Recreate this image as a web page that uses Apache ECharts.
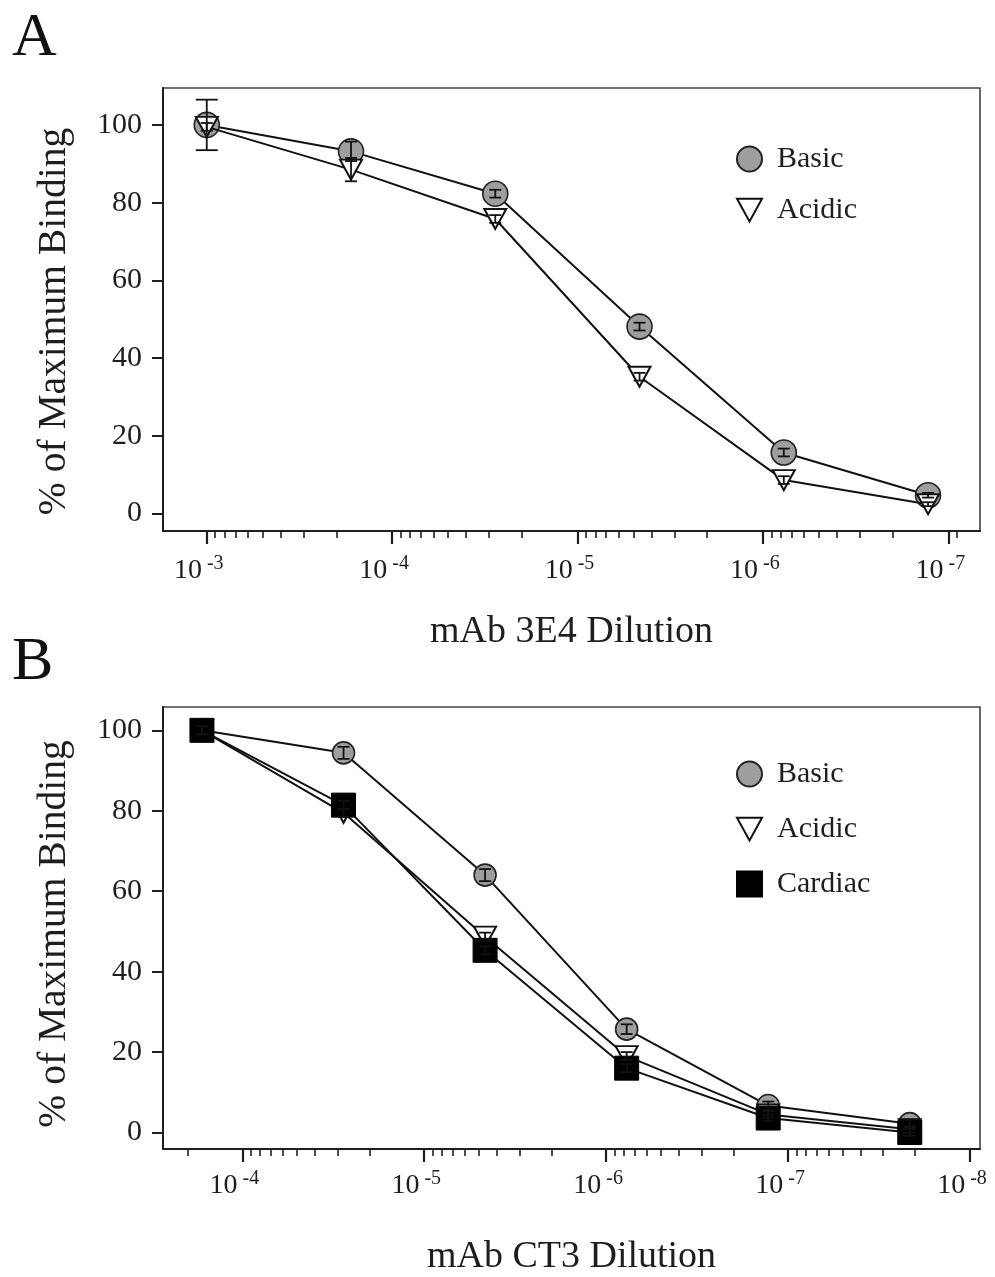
<!DOCTYPE html>
<html><head><meta charset="utf-8">
<script src="https://cdn.jsdelivr.net/npm/echarts@6/dist/echarts.min.js"></script>
<style>html,body{margin:0;padding:0;background:#fff}#c{width:995px;height:1277px}</style>
</head><body><div id="c"></div>
<script>
// ---- Data (reciprocal dilution factors and % of maximum binding) ----
const dilutionsA = [1000, 6000, 36000, 216000, 1296000, 7776000];
const basicA     = [100, 93.2, 82.3, 48.1, 15.7, 4.7];
const basicAErr  = [6.5, 2.5, 1.0, 1.0, 1.0, 0.6];
const acidicA    = [99.5, 88.5, 75.8, 35.2, 8.6, 2.4];
const acidicAErr = [1.0, 3.0, 1.0, 1.0, 1.0, 0.5];

const dilutionsB  = [6000, 36000, 216000, 1296000, 7776000, 46656000];
const basicB      = [100, 94.4, 64.0, 25.7, 6.7, 2.2];
const basicBErr   = [1.0, 1.5, 1.5, 1.2, 1.0, 1.0];
const acidicB     = [100, 79.5, 48.7, 19.0, 4.5, 0.8];
const acidicBErr  = [1.0, 1.0, 1.0, 1.0, 0.8, 0.8];
const cardiacB    = [100, 81.4, 45.3, 16.0, 3.6, 0.0];
const cardiacBErr = [1.0, 1.0, 1.0, 1.0, 0.8, 0.8];

const yTickValues = [0, 20, 40, 60, 80, 100];
const decadeExpA = [-3, -4, -5, -6, -7];
const decadeExpB = [-4, -5, -6, -7, -8];
const minorMultipliers = [2, 3, 4, 5, 6, 7, 8, 9];

const seriesNamesA = ['Basic', 'Acidic'];
const seriesNamesB = ['Basic', 'Acidic', 'Cardiac'];
const titleA = 'mAb 3E4 Dilution';
const titleB = 'mAb CT3 Dilution';
const yTitle = '% of Maximum Binding';

// ---- helpers ----
const FONT = '"Liberation Serif", "Times New Roman", serif';
const INK = '#1e1e1e';
const pts = (dil, vals) => dil.map((d, i) => [1 / d, vals[i]]);
const errPts = (dil, vals, errs) => dil.map((d, i) => [1 / d, vals[i], errs[i]]);
const majors = exps => exps.map(e => Math.pow(10, e));
const minors = (exps, floor) => {
  const out = [];
  const lo = Math.min(...exps) - 1, hi = Math.max(...exps) + 1;
  for (let e = lo; e <= hi; e++) minorMultipliers.forEach(m => out.push(m * Math.pow(10, e)));
  return out.filter(v => v >= floor * 0.999);
};

const circleStyle = (size) => ({ symbol: 'circle', symbolSize: size,
  itemStyle: { color: '#9e9e9e', borderColor: '#222', borderWidth: 1.6 } });
const triStyle = { symbol: 'triangle', symbolRotate: 180, symbolSize: [22, 20],
  itemStyle: { color: '#ffffff', borderColor: '#111', borderWidth: 2 } };
const sqStyle = { symbol: 'rect', symbolSize: 24,
  itemStyle: { color: '#000', borderColor: '#000', borderWidth: 1 } };

function lineSeries(name, idx, data, sty, z) {
  return Object.assign({
    name, type: 'line', xAxisIndex: idx * 2, yAxisIndex: idx, data,
    lineStyle: { color: '#111', width: 2 }, showSymbol: true, z,
    emphasis: { disabled: true }, animation: false
  }, sty);
}
function errSeries(idx, data, z) {
  return {
    type: 'custom', xAxisIndex: idx * 2, yAxisIndex: idx, data, z, animation: false,
    encode: { x: 0, y: 1 },
    renderItem(params, api) {
      const x = api.value(0), y = api.value(1), e = api.value(2);
      const t = api.coord([x, y + e]), b = api.coord([x, y - e]);
      const cw = e > 4 ? 11 : 6;
      const st = { stroke: '#111', lineWidth: 1.8 };
      return { type: 'group', children: [
        { type: 'line', shape: { x1: t[0], y1: t[1], x2: b[0], y2: b[1] }, style: st },
        { type: 'line', shape: { x1: t[0] - cw, y1: t[1], x2: t[0] + cw, y2: t[1] }, style: st },
        { type: 'line', shape: { x1: b[0] - cw, y1: b[1], x2: b[0] + cw, y2: b[1] }, style: st }
      ]};
    }
  };
}

const labelRich = {
  a: { fontFamily: FONT, fontSize: 28, color: INK, lineHeight: 34 },
  b: { fontFamily: FONT, fontSize: 20, color: INK, verticalAlign: 'top', padding: [0, 16, 0, 5] }
};
const fmtExp = v => '{a|10}{b|' + Math.round(Math.log10(v)) + '}';

function xAxes(grid, exps, lo, hi, margin, title, nameGap, floor) {
  return [
    { type: 'log', gridIndex: grid, position: 'bottom', inverse: true, min: Math.pow(10, lo), max: Math.pow(10, hi),
      axisLine: { show: true, onZero: false, lineStyle: { color: INK, width: 2 } },
      axisTick: { show: true, customValues: majors(exps), length: 13, lineStyle: { color: INK, width: 2.2 } },
      axisLabel: { show: true, customValues: majors(exps), formatter: fmtExp, rich: labelRich, margin },
      splitLine: { show: false }, minorTick: { show: false },
      name: title, nameLocation: 'middle', nameGap,
      nameTextStyle: { fontFamily: FONT, fontSize: 38, color: INK } },
    { type: 'log', gridIndex: grid, position: 'bottom', offset: 0, inverse: true, min: Math.pow(10, lo), max: Math.pow(10, hi),
      axisLine: { show: false, onZero: false },
      axisTick: { show: true, customValues: minors(exps, floor), length: 7, lineStyle: { color: INK, width: 1.6 } },
      axisLabel: { show: false }, splitLine: { show: false } }
  ];
}
function yAxis(grid, min, max, pad) {
  return { type: 'value', gridIndex: grid, min, max,
    axisLine: { show: true, onZero: false, lineStyle: { color: INK, width: 2 } },
    axisTick: { show: true, customValues: yTickValues, length: 11, lineStyle: { color: INK, width: 2 } },
    axisLabel: { show: true, customValues: yTickValues, margin: 21, fontFamily: FONT, fontSize: 30, color: INK },
    splitLine: { show: false },
    name: yTitle, nameLocation: 'middle', nameGap: 88, nameRotate: 90,
    nameTextStyle: { fontFamily: FONT, fontSize: 39.5, color: INK, padding: pad } };
}

const legendText = { fontFamily: FONT, fontSize: 30, color: INK, padding: [0, 0, 0, 10] };
const triIcon = 'path://M0,0L22,0L11,20Z';

const option = {
  backgroundColor: '#fff',
  animation: false,
  grid: [
    { left: 163, top: 88, width: 817, height: 443, show: true, borderColor: '#444', borderWidth: 1.6, backgroundColor: 'transparent' },
    { left: 163, top: 707, width: 817, height: 442, show: true, borderColor: '#444', borderWidth: 1.6, backgroundColor: 'transparent' }
  ],
  xAxis: [
    ...xAxes(0, decadeExpA, -7.171, -2.764, 23, titleA, 82, 9e-8),
    ...xAxes(1, decadeExpB, -8.055, -3.564, 20, titleB, 89, 1e-8)
  ],
  yAxis: [ yAxis(0, -4.5, 109.5, [0, 24, 0, 0]), yAxis(1, -4.1, 105.8, [0, 12, 0, 0]) ],
  legend: [
    { orient: 'vertical', left: 731, top: 139, itemWidth: 25, itemHeight: 25, itemGap: 21, selectedMode: false,
      data: [{ name: seriesNamesA[0], icon: 'circle' }, { name: seriesNamesA[1], icon: triIcon }],
      textStyle: legendText },
    { orient: 'vertical', left: 731, top: 754, itemWidth: 25, itemHeight: 25, itemGap: 25, selectedMode: false,
      data: [{ name: seriesNamesB[0], icon: 'circle' }, { name: seriesNamesB[1], icon: triIcon }, { name: seriesNamesB[2], icon: 'rect' }],
      textStyle: legendText }
  ],
  graphic: [
    { type: 'text', left: 12, top: 8, style: { text: 'A', font: '62px "Liberation Serif"', fill: '#111' } },
    { type: 'text', left: 12, top: 632, style: { text: 'B', font: '62px "Liberation Serif"', fill: '#111' } }
  ],
  series: [
    lineSeries(seriesNamesA[0], 0, pts(dilutionsA, basicA), circleStyle(25), 3),
    lineSeries(seriesNamesA[1], 0, pts(dilutionsA, acidicA), triStyle, 4),
    errSeries(0, errPts(dilutionsA, basicA, basicAErr), 6),
    errSeries(0, errPts(dilutionsA, acidicA, acidicAErr), 6),
    lineSeries(seriesNamesB[0], 1, pts(dilutionsB, basicB), circleStyle(22), 3),
    lineSeries(seriesNamesB[1], 1, pts(dilutionsB, acidicB), triStyle, 4),
    lineSeries(seriesNamesB[2], 1, pts(dilutionsB, cardiacB), sqStyle, 5),
    errSeries(1, errPts(dilutionsB, basicB, basicBErr), 6),
    errSeries(1, errPts(dilutionsB, acidicB, acidicBErr), 6),
    errSeries(1, errPts(dilutionsB, cardiacB, cardiacBErr), 6)
  ]
};
const chart = echarts.init(document.getElementById('c'), null, { renderer: 'canvas' });
chart.setOption(option);
</script></body></html>
